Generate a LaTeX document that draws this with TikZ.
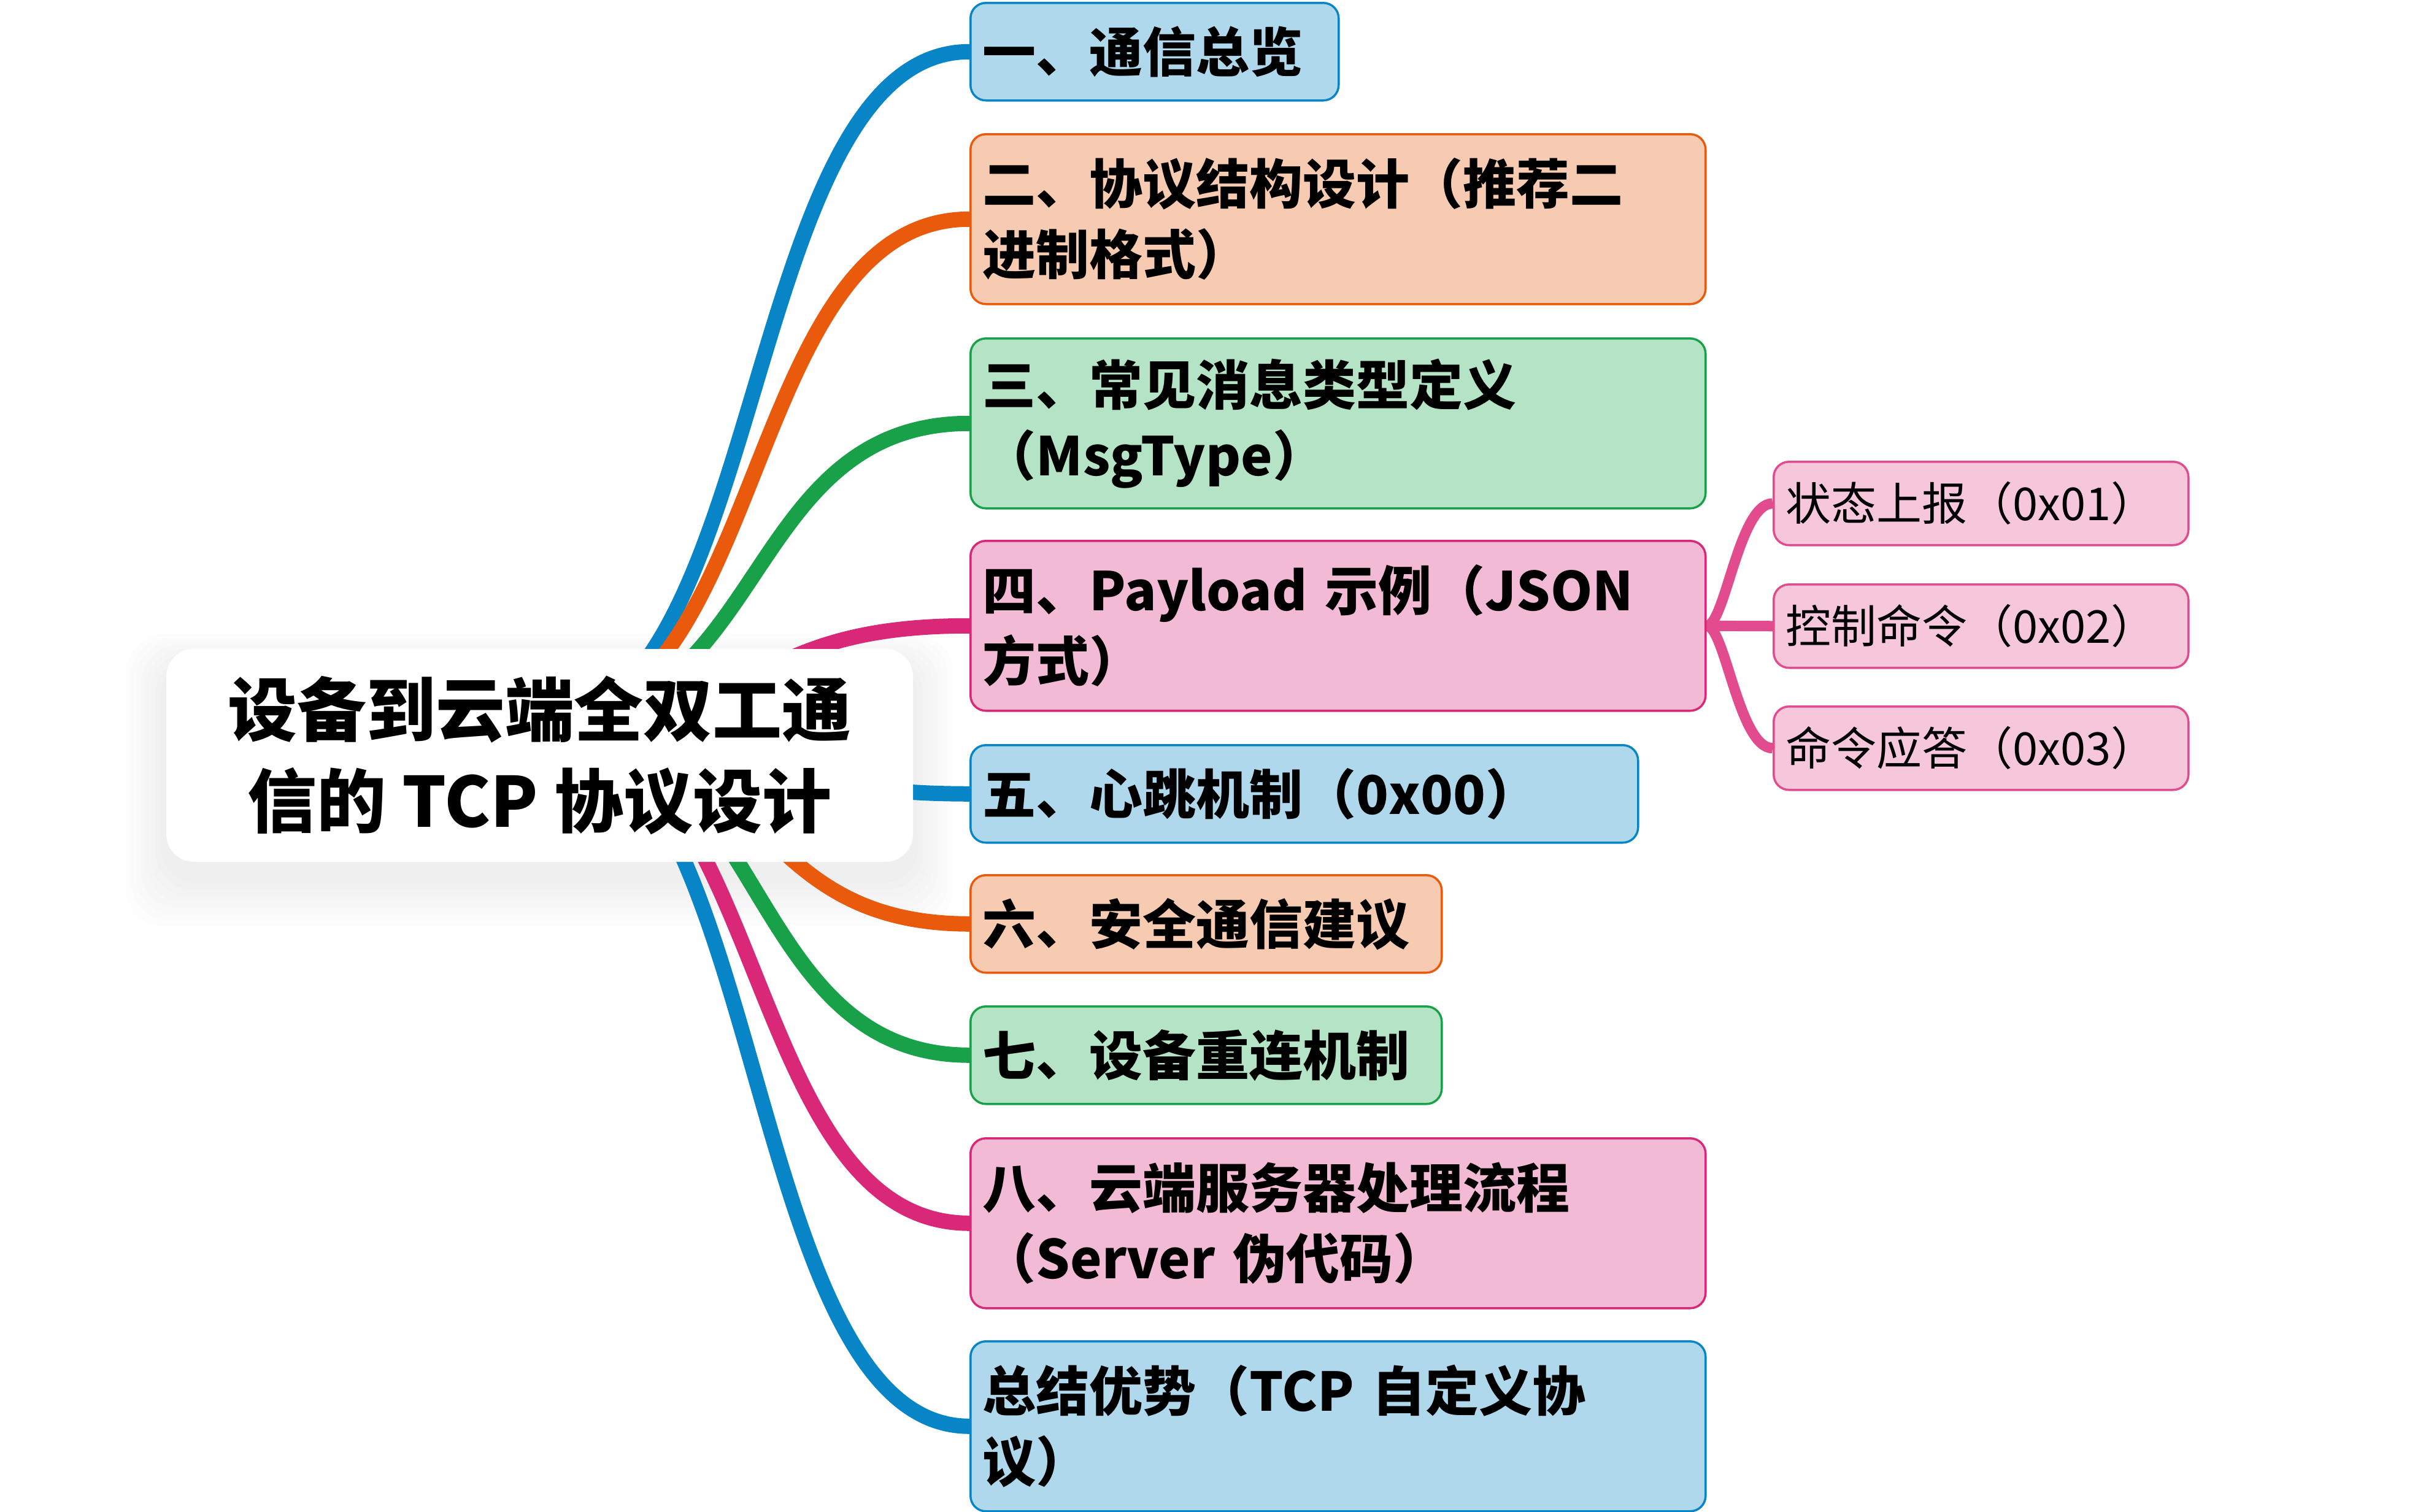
\documentclass[tikz,border=0pt]{standalone}
\usepackage{fontspec}
\setmainfont{Noto Sans CJK SC}
\usetikzlibrary{backgrounds,calc}
\pgfdeclarelayer{shade}
\pgfsetlayers{shade,background,main}

\definecolor{bluefill}{HTML}{B0D8EC}
\definecolor{blueline}{HTML}{0785C7}
\definecolor{orangefill}{HTML}{F7CBB1}
\definecolor{orangeline}{HTML}{E95A0C}
\definecolor{greenfill}{HTML}{B5E3C6}
\definecolor{greenline}{HTML}{19A14A}
\definecolor{pinkfill}{HTML}{F2BAD4}
\definecolor{pinkline}{HTML}{DA2878}
\definecolor{subfill}{HTML}{F6C6DA}
\definecolor{subline}{HTML}{E24C8E}

\tikzset{
	topic/.style={draw, line width=0.35mm, rounded corners=0.25cm, anchor=north west,
		inner xsep=0.2cm, align=left, minimum height=1.59cm,
		font=\bfseries\fontsize{24.75}{32.7}\selectfont},
	twoline/.style={minimum height=2.77cm},
	bluetopic/.style={topic, fill=bluefill, draw=blueline},
	orangetopic/.style={topic, fill=orangefill, draw=orangeline},
	greentopic/.style={topic, fill=greenfill, draw=greenline},
	pinktopic/.style={topic, fill=pinkfill, draw=pinkline},
	subtopic/.style={draw=subline, fill=subfill, line width=0.35mm, rounded corners=0.25cm,
		anchor=north west, inner xsep=0.2cm, text width=6.36cm, minimum height=1.36cm,
		align=left, font=\fontsize{21.05}{26}\selectfont},
	rootbox/.style={fill=white, rounded corners=0.45cm, minimum width=12.17cm,
		minimum height=3.47cm, align=center, font=\bfseries\fontsize{32.15}{42.4}\selectfont},
	link/.style={line width=2.5mm},
	sublink/.style={line width=1.7mm, draw=subline}
}

\begin{document}
\begin{tikzpicture}
	\useasboundingbox (0,0) rectangle (39.36,-24.64);
	% central topic
	\node[rootbox] (root) at (8.795,-12.315) {设备到云端全双工通\\信的 TCP 协议设计};
	\coordinate (hub) at (8.8,-11.8);

	% first level
	\node[bluetopic, text width=5.6cm] (t1) at (15.8,-0.03) {一、通信总览};
	\node[orangetopic, twoline, text width=11.58cm] (t2) at (15.8,-2.17) {二、协议结构设计（推荐二\\进制格式）};
	\node[greentopic, twoline, text width=11.58cm] (t3) at (15.8,-5.50) {三、常见消息类型定义\\（MsgType）};
	\node[pinktopic, twoline, text width=11.58cm] (t4) at (15.8,-8.80) {四、Payload 示例（JSON\\方式）};
	\node[bluetopic, text width=10.48cm] (t5) at (15.8,-12.13) {五、心跳机制（0x00）};
	\node[orangetopic, text width=7.28cm] (t6) at (15.8,-14.25) {六、安全通信建议};
	\node[greentopic, text width=7.28cm] (t7) at (15.8,-16.39) {七、设备重连机制};
	\node[pinktopic, twoline, text width=11.58cm] (t8) at (15.8,-18.54) {八、云端服务器处理流程\\（Server 伪代码）};
	\node[bluetopic, twoline, text width=11.58cm] (t9) at (15.8,-21.85) {总结优势（TCP 自定义协\\议）};

	% second level under t4
	\node[subtopic] (s1) at (28.89,-7.51) {状态上报（0x01）};
	\node[subtopic] (s2) at (28.89,-9.51) {控制命令（0x02）};
	\node[subtopic] (s3) at (28.89,-11.50) {命令应答（0x03）};

	% soft shadow of the central topic
	\begin{pgfonlayer}{shade}
		\foreach \g in {1,...,8}
			\fill[black, opacity=0.008, rounded corners=0.6cm]
				([shift={(-0.08*\g,0.06*\g-0.25)}]root.north west) rectangle ([shift={(0.08*\g,-0.1*\g-0.25)}]root.south east);
	\end{pgfonlayer}

	% branches
	\begin{pgfonlayer}{background}
		\draw[link, blueline] (hub) .. controls ([xshift=3.73cm]hub) and ([xshift=-3.73cm]t1.west) .. (t1.west);
		\draw[link, orangeline] (hub) .. controls ([xshift=3.73cm]hub) and ([xshift=-3.73cm]t2.west) .. (t2.west);
		\draw[link, greenline] (hub) .. controls ([xshift=3.73cm]hub) and ([xshift=-3.73cm]t3.west) .. (t3.west);
		\draw[link, pinkline] (hub) .. controls ([xshift=3.73cm]hub) and ([xshift=-3.73cm]t4.west) .. (t4.west);
		\draw[link, blueline] (hub) .. controls ([xshift=3.73cm]hub) and ([xshift=-3.73cm]t5.west) .. (t5.west);
		\draw[link, orangeline] (hub) .. controls ([xshift=3.73cm]hub) and ([xshift=-3.73cm]t6.west) .. (t6.west);
		\draw[link, greenline] (hub) .. controls ([xshift=3.73cm]hub) and ([xshift=-3.73cm]t7.west) .. (t7.west);
		\draw[link, pinkline] (hub) .. controls ([xshift=3.73cm]hub) and ([xshift=-3.73cm]t8.west) .. (t8.west);
		\draw[link, blueline] (hub) .. controls ([xshift=3.73cm]hub) and ([xshift=-3.73cm]t9.west) .. (t9.west);

		\draw[sublink] (t4.east) .. controls ([xshift=0.3cm]t4.east) and ([xshift=-0.55cm]s1.west) .. (s1.west);
		\draw[sublink] (t4.east) -- (s2.west);
		\draw[sublink] (t4.east) .. controls ([xshift=0.3cm]t4.east) and ([xshift=-0.55cm]s3.west) .. (s3.west);
	\end{pgfonlayer}
\end{tikzpicture}
\end{document}
